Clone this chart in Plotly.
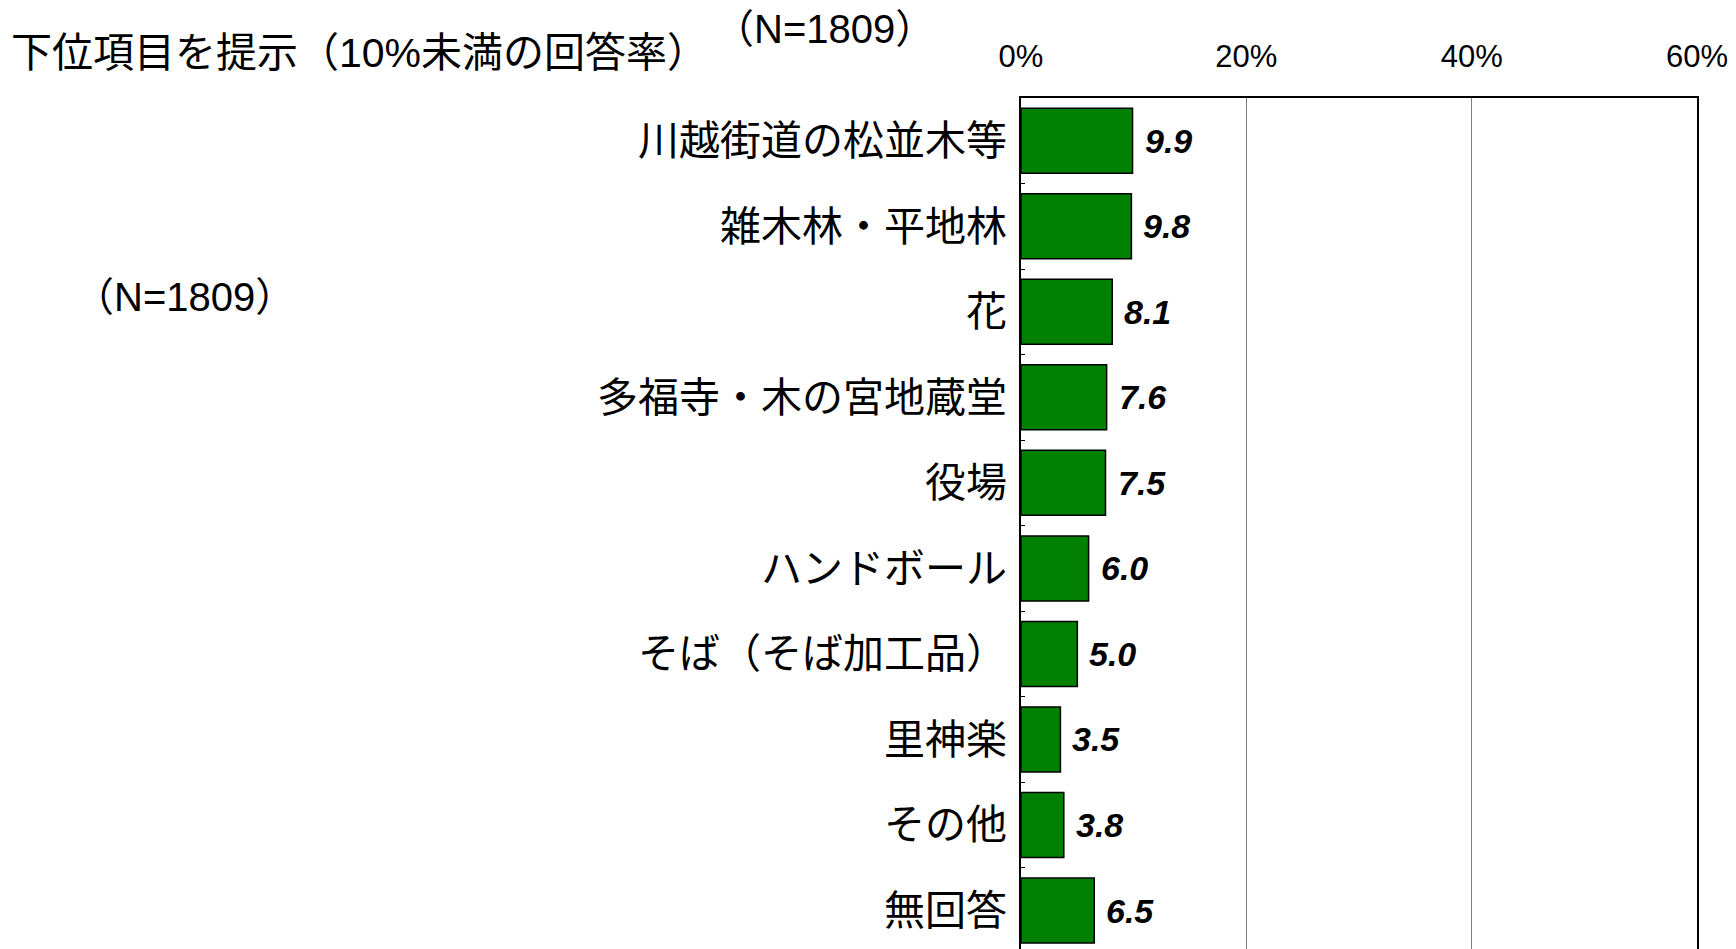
import plotly.graph_objects as go

categories = ["川越街道の松並木等", "雑木林・平地林", "花", "多福寺・木の宮地蔵堂", "役場",
              "ハンドボール", "そば（そば加工品）", "里神楽", "その他", "無回答"]
values = [9.9, 9.8, 8.1, 7.6, 7.5, 6.0, 5.0, 3.5, 3.8, 6.5]
tick_vals = [0, 20, 40, 60]
tick_text = ["0%", "20%", "40%", "60%"]
title_text = "下位項目を提示（10%未満の回答率）"
n_text = "（N=1809）"

# the page body has an 8px default margin, so the figure is sized to fit the window
W, H = 1728, 941
L, R, T, B = 1013, 39, 90, 0
PW = W - L - R
PH = H - T - B

def px_x(px):
    return (px - L) / PW

def px_y(py):
    return 1 - (py - T) / PH

FONT = "Liberation Sans, Arial, Noto Sans CJK JP"
JFONT = "Noto Sans CJK JP, Liberation Sans"

fig = go.Figure()
fig.add_trace(go.Bar(
    x=values, y=categories, orientation="h",
    marker=dict(color="#008000", line=dict(color="black", width=1.5)),
    width=0.76, hoverinfo="skip",
))

for v, c in zip(values, categories):
    fig.add_annotation(x=v, y=c, text=f"{v:.1f}", showarrow=False,
                       xanchor="left", xshift=10,
                       font=dict(family=FONT, size=34, color="black", weight="bold", style="italic"))

fig.add_annotation(xref="paper", yref="paper", x=px_x(1), y=px_y(45), text=title_text,
                   showarrow=False, xanchor="left", yanchor="middle",
                   font=dict(family=FONT, size=41, color="black"))
fig.add_annotation(xref="paper", yref="paper", x=px_x(816), y=px_y(21), text=n_text,
                   showarrow=False, xanchor="center", yanchor="middle",
                   font=dict(family=FONT, size=40, color="black"))
fig.add_annotation(xref="paper", yref="paper", x=px_x(177), y=px_y(289), text=n_text,
                   showarrow=False, xanchor="center", yanchor="middle",
                   font=dict(family=FONT, size=40, color="black"))

fig.update_layout(
    width=W, height=H,
    margin=dict(l=L, r=R, t=T, b=B, pad=0),
    paper_bgcolor="white", plot_bgcolor="white",
    showlegend=False,
    xaxis=dict(range=[0, 60], side="top", tickvals=tick_vals, ticktext=tick_text,
               showgrid=True, gridcolor="#808080", gridwidth=1.2,
               showline=True, linecolor="black", linewidth=1.5, mirror=False,
               ticks="", ticklabelstandoff=17, zeroline=False, automargin=False,
               tickfont=dict(family=FONT, size=31, color="black")),
    yaxis=dict(categoryorder="array", categoryarray=categories,
               range=[9.45, -0.5], automargin=False,
               showline=True, linecolor="black", linewidth=1.5, mirror=True,
               ticks="inside", tickson="boundaries", ticklen=4, tickcolor="black",
               ticklabelstandoff=4, showgrid=False,
               tickfont=dict(family=JFONT, size=41, color="black")),
)

fig.write_html("out.html")
